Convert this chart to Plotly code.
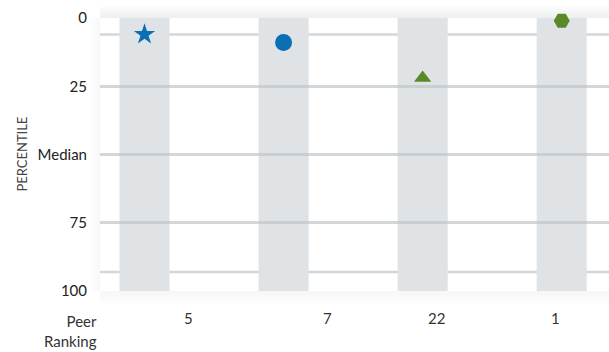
import plotly.graph_objects as go

# Peer groups along the x axis, with each fund's percentile and peer ranking
groups = ["A", "B", "C", "D"]
percentiles = [6, 9, 22, 1]
peer_ranks = ["5", "7", "22", "1"]
symbols = ["star", "circle", "triangle-up", "hexagon2"]
colors = ["#0a6fb3", "#0a6fb3", "#5a8a28", "#5a8a28"]
sizes = [16, 17, 15, 16]

# Percentile axis ticks
tick_vals = [0, 25, 50, 75, 100]
tick_text = ["0", "25", "Median", "75", "100"]
extra_lines = [6, 93]

# Horizontal nudges (px) for the ranking labels under each column
rank_shift = [44, 44, 14, -6]

FONT = "Lato"
xs = list(range(len(groups)))

fig = go.Figure()

shapes = []
# Grey column band behind each group
for x in xs:
    shapes.append(dict(type="rect", xref="x", yref="y", x0=x - 0.18, x1=x + 0.18,
                       y0=0, y1=100, fillcolor="#dfe3e6", line_width=0, layer="below"))
# Additional reference lines between the labelled ticks
for v in extra_lines:
    shapes.append(dict(type="line", xref="paper", yref="y", x0=0, x1=1, y0=v, y1=v,
                       line=dict(color="rgba(190,196,200,0.68)", width=2.5), layer="between"))
# Soft shadow above the plotting frame
for k in range(10):
    shapes.append(dict(type="rect", xref="paper", yref="paper", x0=0, x1=1,
                       y0=1 + k * 0.0045, y1=1 + (k + 1) * 0.0045,
                       fillcolor="rgba(150,155,160,%.3f)" % (0.16 - k * 0.016),
                       line_width=0, layer="below"))
# Soft shadow below the plotting frame
for k in range(8):
    shapes.append(dict(type="rect", xref="paper", yref="paper", x0=0, x1=1,
                       y0=-(k + 1) * 0.006, y1=-k * 0.006,
                       fillcolor="rgba(150,155,160,%.3f)" % (0.08 - k * 0.01),
                       line_width=0, layer="below"))
# Soft shadow along the left edge
for k in range(6):
    shapes.append(dict(type="rect", xref="paper", yref="paper",
                       x0=-(k + 1) * 0.003, x1=-k * 0.003, y0=0, y1=1,
                       fillcolor="rgba(150,155,160,%.3f)" % (0.07 - k * 0.011),
                       line_width=0, layer="below"))

for x, p, s, c, sz in zip(xs, percentiles, symbols, colors, sizes):
    fig.add_trace(go.Scatter(
        x=[x], y=[p], mode="markers",
        marker=dict(symbol=s, color=c, size=sz, line=dict(width=0)),
        cliponaxis=False, showlegend=False, hoverinfo="skip",
    ))

annotations = []
for x, r, dx in zip(xs, peer_ranks, rank_shift):
    annotations.append(dict(x=x, y=-0.14, xref="x", yref="paper", text=r, showarrow=False,
                            xshift=dx, font=dict(family=FONT, size=15, color="#333333")))
annotations.append(dict(x=0, y=-0.145, xref="paper", yref="paper", xanchor="right",
                        yanchor="middle", align="right", text="Peer<br>Ranking",
                        showarrow=False, xshift=-1,
                        font=dict(family=FONT, size=15, color="#333333")))
annotations.append(dict(x=-0.155, y=0.5, xref="paper", yref="paper", text="PERCENTILE",
                        textangle=-90, showarrow=False, xanchor="center", yanchor="middle",
                        font=dict(family=FONT, size=13, color="#444444")))

fig.update_layout(
    width=609, height=352,
    margin=dict(l=100, r=0, t=18, b=61),
    paper_bgcolor="white", plot_bgcolor="rgba(0,0,0,0)",
    shapes=shapes, annotations=annotations,
    xaxis=dict(range=[-0.32, 3.34], showgrid=False, zeroline=False,
               showticklabels=False, ticks="", fixedrange=True),
    yaxis=dict(range=[100, 0], tickvals=tick_vals, ticktext=tick_text,
               showgrid=True, gridcolor="rgba(190,196,200,0.68)", gridwidth=2.5,
               zeroline=False, ticks="outside", ticklen=9, tickcolor="rgba(0,0,0,0)",
               tickfont=dict(family=FONT, size=15, color="#222222")),
    font=dict(family=FONT),
)

fig.write_html("out.html")
